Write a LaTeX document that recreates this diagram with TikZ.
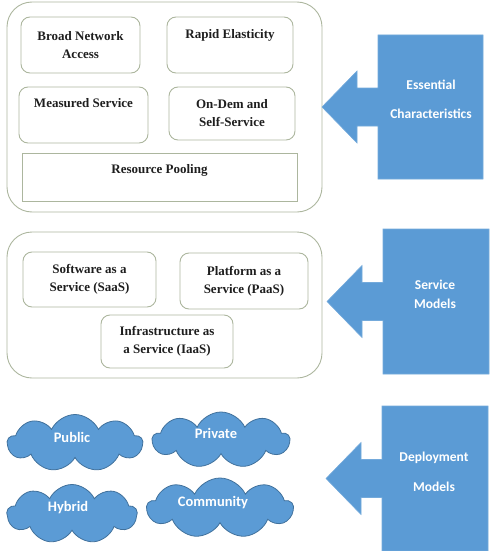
\documentclass[tikz,border=0pt]{standalone}
\usepackage{fontspec}
\setmainfont{Liberation Serif}
\newfontfamily\calibri{Carlito}
\usepackage{tikz}
\usetikzlibrary{positioning, shapes.symbols, calc}

\definecolor{boxgreen}{RGB}{172,182,158}
\definecolor{officeblue}{RGB}{91,155,213}
\definecolor{cloudedge}{RGB}{65,113,156}
\definecolor{inktext}{RGB}{30,30,30}

\tikzset{
    outerbox/.style={draw=boxgreen, line width=0.9pt, rounded corners=25pt, inner sep=0pt},
    featbox/.style={draw=boxgreen, line width=0.9pt, rounded corners=9pt, inner sep=0pt, align=center,
        font=\fontsize{13}{18}\selectfont\bfseries, text=inktext},
    feattext/.style={inner sep=0pt, align=center, font=\fontsize{13}{18}\selectfont\bfseries, text=inktext},
    deploycloud/.style={cloud, cloud puffs=9, cloud puff arc=130, draw=cloudedge, line width=0.8pt,
        fill=officeblue, inner sep=0pt},
    cloudtext/.style={text=white, inner sep=0pt, font=\calibri\fontsize{14.5}{16}\selectfont\bfseries},
    calloutarrow/.style={fill=officeblue, draw=officeblue!85!white, line width=0.6pt},
    callouttext/.style={inner sep=0pt, align=center, text=white, font=\calibri\fontsize{13.5}{29}\selectfont\bfseries}
}

\begin{document}
\begin{tikzpicture}[x=1pt, y=-1pt]
\useasboundingbox (0,0) rectangle (493,551);
% ---- Essential characteristics
\node[outerbox, minimum width=315pt, minimum height=210pt] (essbox) at (164.5,107) {};
\node[featbox, minimum width=119pt, minimum height=56pt] (access) at (80.5,45) {Broad Network\\Access};
\node[featbox, minimum width=126pt, minimum height=56pt] (elastic) at (230,45) {};
\node[feattext] (elastictxt) at (230,35) {Rapid Elasticity};
\node[featbox, minimum width=129pt, minimum height=56pt] (measured) at (83.5,115) {};
\node[feattext] (measuredtxt) at (83.5,103) {Measured Service};
\node[featbox, minimum width=126pt, minimum height=53pt] (ondemand) at (232,113.5) {On-Dem and\\Self-Service};
\node[featbox, rounded corners=0pt, minimum width=275pt, minimum height=48pt] (pooling) at (159.5,177) {};
\node[feattext] (poolingtxt) at (159.5,170) {Resource Pooling};
% ---- Service models
\node[outerbox, minimum width=315pt, minimum height=146pt] (svcbox) at (164.5,305) {};
\node[featbox, minimum width=133pt, minimum height=55pt] (saas) at (89.5,279.5) {Software as a\\Service (SaaS)};
\node[featbox, minimum width=128pt, minimum height=56pt] (paas) at (244,281) {Platform as a\\Service (PaaS)};
\node[featbox, minimum width=132pt, minimum height=53pt] (iaas) at (167,341.5) {Infrastructure as\\a Service (IaaS)};
% ---- Deployment models
\node[deploycloud, minimum width=135pt, minimum height=57pt, aspect=2.4] (public) at (75,443) {};
\node[cloudtext] (publictxt) at (72,437) {Public};
\node[deploycloud, minimum width=137pt, minimum height=56pt, aspect=2.4] (private) at (221,440) {};
\node[cloudtext] (privatetxt) at (216,433) {Private};
\node[deploycloud, minimum width=130pt, minimum height=59pt, aspect=2.2] (hybrid) at (72,514) {};
\node[cloudtext] (hybridtxt) at (68,508) {Hybrid};
\node[deploycloud, minimum width=146pt, minimum height=60pt, aspect=2.4] (community) at (220,508) {};
\node[cloudtext] (communitytxt) at (213,503) {Community};
% ---- Callout arrows (left edge / top / bottom / right edge)
\foreach \l/\t/\b/\r in {378/35/179/483, 383/229/374/489, 382/406/551/488} {
    \pgfmathsetmacro\m{(\t+\b)/2}
    \draw[calloutarrow] (\l,\t) -- (\r,\t) -- (\r,\b) -- (\l,\b) -- (\l,\m+19) -- (\l-21,\m+19)
        -- (\l-21,\m+36) -- (\l-56,\m) -- (\l-21,\m-36) -- (\l-21,\m-19) -- (\l,\m-19) -- cycle;
}
\node[callouttext] (esstxt) at (431,99.5) {Essential\\Characteristics};
\node[callouttext, font=\calibri\fontsize{13.5}{19}\selectfont\bfseries] (svctxt) at (435,294.5) {Service\\Models};
\node[callouttext, font=\calibri\fontsize{13.5}{30}\selectfont\bfseries] (deploytxt) at (434,472) {Deployment\\Models};
\end{tikzpicture}
\end{document}
